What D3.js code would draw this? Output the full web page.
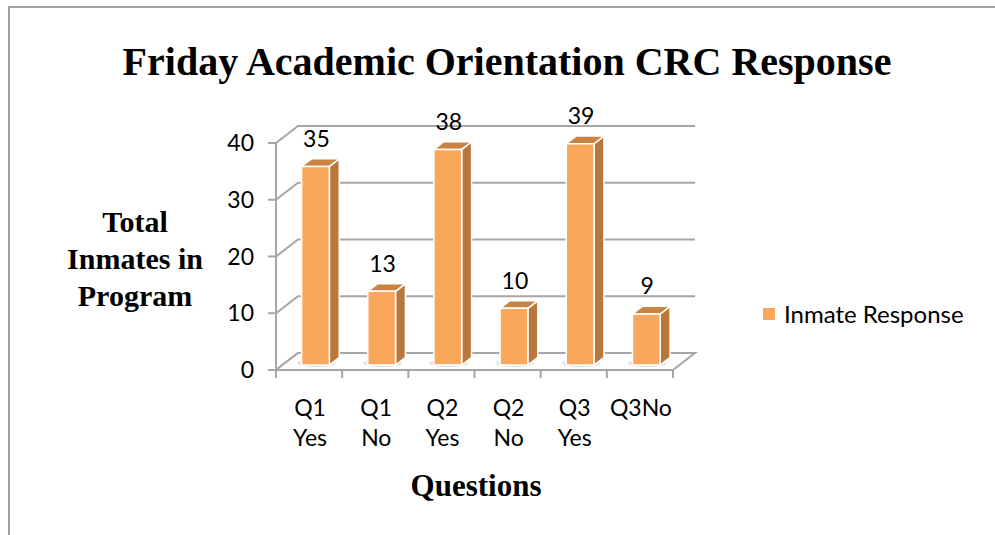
<!DOCTYPE html>
<html>
<head>
<meta charset="utf-8">
<script src="https://cdnjs.cloudflare.com/ajax/libs/d3/7.8.5/d3.min.js"></script>
<style>
  body { margin: 0; background: #fff; }
  svg text { fill: #000; }
</style>
</head>
<body>
<script>
  var categories = ["Q1 Yes", "Q1 No", "Q2 Yes", "Q2 No", "Q3 Yes", "Q3No"];
  var values = [35, 13, 38, 10, 39, 9];
  var yTicks = [0, 10, 20, 30, 40];
  var seriesName = "Inmate Response";

  var chart = {
    "width": 995,
    "height": 535,
    "left": 276,
    "right": 673,
    "floor": 370,
    "top": 143,
    "depth_x": 22,
    "depth_y": -17
  };
  chart.colors = {
    "front": "#F9A85B",
    "side": "#B8783C",
    "top": "#C98441",
    "grid": "#A6A6A6",
    "frame": "#A0A0A0"
  };
  var sans = "Lato, 'Open Sans', sans-serif";
  var serif = "'Liberation Serif', 'Times New Roman', serif";

  var svg = d3.select("body").append("svg")
    .attr("width", chart.width)
    .attr("height", chart.height);

  var x = d3.scaleBand().domain(categories).range([chart.left, chart.right]);
  var y = d3.scaleLinear().domain([0, 40]).range([chart.floor, chart.top]);

  // push a front-plane point back by depth z (0..1)
  function proj(px, py, z){
    return [px + chart.depth_x * z, py + chart.depth_y * z];
  }
  function poly(pts){
    return pts.map(function(p){ return p.join(","); }).join(" ");
  }

  // outer frame
  svg.append("path")
    .attr("d", "M9,535 L9,7 L995,7")
    .attr("fill", "none")
    .attr("stroke", chart.colors.frame)
    .attr("stroke-width", 2);

  // back wall gridlines + side wall diagonals
  var grid = svg.append("g").attr("stroke", chart.colors.grid).attr("stroke-width", 2).attr("fill", "none");
  yTicks.forEach(function(t){
    var a = proj(chart.left, y(t), 0), b = proj(chart.left, y(t), 1), c = proj(chart.right, y(t), 1);
    grid.append("polyline").attr("points", poly([a, b, c]));
  });

  // floor
  var f0 = proj(chart.left, chart.floor, 0), f1 = proj(chart.right, chart.floor, 0),
      f2 = proj(chart.right, chart.floor, 1), f3 = proj(chart.left, chart.floor, 1);
  grid.append("polygon").attr("points", poly([f0, f1, f2, f3])).attr("fill", "#fff");

  // y axis line and ticks
  grid.append("line").attr("x1", chart.left).attr("x2", chart.left)
    .attr("y1", y(40)).attr("y2", chart.floor + 2);
  grid.selectAll("line.ytick").data(yTicks).enter().append("line")
    .attr("x1", chart.left - 8).attr("x2", chart.left)
    .attr("y1", function(d){ return y(d); }).attr("y2", function(d){ return y(d); });

  // x ticks
  var xTicks = categories.map(function(c){ return x(c); }).concat([chart.right]);
  grid.selectAll("line.xtick").data(xTicks).enter().append("line")
    .attr("x1", function(d){ return d; }).attr("x2", function(d){ return d; })
    .attr("y1", chart.floor).attr("y2", chart.floor + 8);

  // shadows under bars
  var bw = x.bandwidth() * 0.42;
  var z0 = 0.29, z1 = 0.74;
  var data = categories.map(function(c, i){ return {cat: c, val: values[i]}; });

  var shadow = svg.append("g");
  data.forEach(function(d){
    var cx = x(d.cat) + x.bandwidth() / 2;
    var p = proj(cx, chart.floor, (z0 + z1) / 2);
    shadow.append("ellipse")
      .attr("cx", p[0] - 4).attr("cy", p[1] + 2)
      .attr("rx", bw * 0.7).attr("ry", 4)
      .attr("fill", "#D8D8D8").attr("opacity", 0.7);
  });

  // bars
  var bars = svg.append("g").attr("stroke", "#fff").attr("stroke-width", 1.5).attr("stroke-linejoin", "round");
  data.forEach(function(d){
    var cx = x(d.cat) + x.bandwidth() / 2;
    var xl = cx - bw / 2, xr = cx + bw / 2;
    var yt = y(d.val), yb = chart.floor;
    var fa = proj(xl, yt, z0), fb = proj(xr, yt, z0), fc = proj(xr, yb, z0), fd = proj(xl, yb, z0);
    var bb = proj(xr, yt, z1), bc = proj(xr, yb, z1), ba = proj(xl, yt, z1);
    bars.append("polygon").attr("points", poly([fb, bb, bc, fc])).attr("fill", chart.colors.side);
    bars.append("polygon").attr("points", poly([fa, ba, bb, fb])).attr("fill", chart.colors.top);
    bars.append("polygon").attr("points", poly([fa, fb, fc, fd])).attr("fill", chart.colors.front);

    svg.append("text")
      .attr("x", (fa[0] + fb[0]) / 2 + 1)
      .attr("y", ba[1] - 12)
      .attr("text-anchor", "middle")
      .style("font-family", sans)
      .style("font-size", "23px")
      .text(d.val);
  });

  // y tick labels
  svg.selectAll("text.ylab").data(yTicks).enter().append("text")
    .attr("x", chart.left - 22)
    .attr("y", function(d){ return y(d) + 8; })
    .attr("text-anchor", "end")
    .style("font-family", sans)
    .style("font-size", "23px")
    .text(function(d){ return d; });

  // x labels, wrapped like the original
  var xlab = svg.selectAll("text.xlab").data(categories).enter().append("text")
    .attr("text-anchor", "middle")
    .style("font-family", sans)
    .style("font-size", "23px");
  xlab.each(function(c){
    var parts = c.split(" ");
    var t = d3.select(this);
    var cx = x(c) + x.bandwidth() / 2 + 1;
    parts.forEach(function(p, i){
      t.append("tspan").attr("x", cx).attr("y", 416 + i * 30).text(p);
    });
  });

  // titles
  svg.append("text")
    .attr("x", 507).attr("y", 75)
    .attr("text-anchor", "middle")
    .style("font-family", serif)
    .style("font-weight", "bold")
    .style("font-size", "40px")
    .text("Friday Academic Orientation CRC Response");

  var ytitle = svg.append("text")
    .attr("text-anchor", "middle")
    .style("font-family", serif)
    .style("font-weight", "bold")
    .style("font-size", "30px");
  ["Total", "Inmates in", "Program"].forEach(function(s, i){
    ytitle.append("tspan").attr("x", 135).attr("y", 232 + i * 37).text(s);
  });

  svg.append("text")
    .attr("x", 476).attr("y", 496)
    .attr("text-anchor", "middle")
    .style("font-family", serif)
    .style("font-weight", "bold")
    .style("font-size", "31px")
    .text("Questions");

  // legend
  svg.append("rect")
    .attr("x", 763).attr("y", 308).attr("width", 12).attr("height", 12)
    .attr("fill", chart.colors.front);
  svg.append("text")
    .attr("x", 784).attr("y", 323)
    .style("font-family", sans)
    .style("font-size", "24px")
    .text(seriesName);
</script>
</body>
</html>
